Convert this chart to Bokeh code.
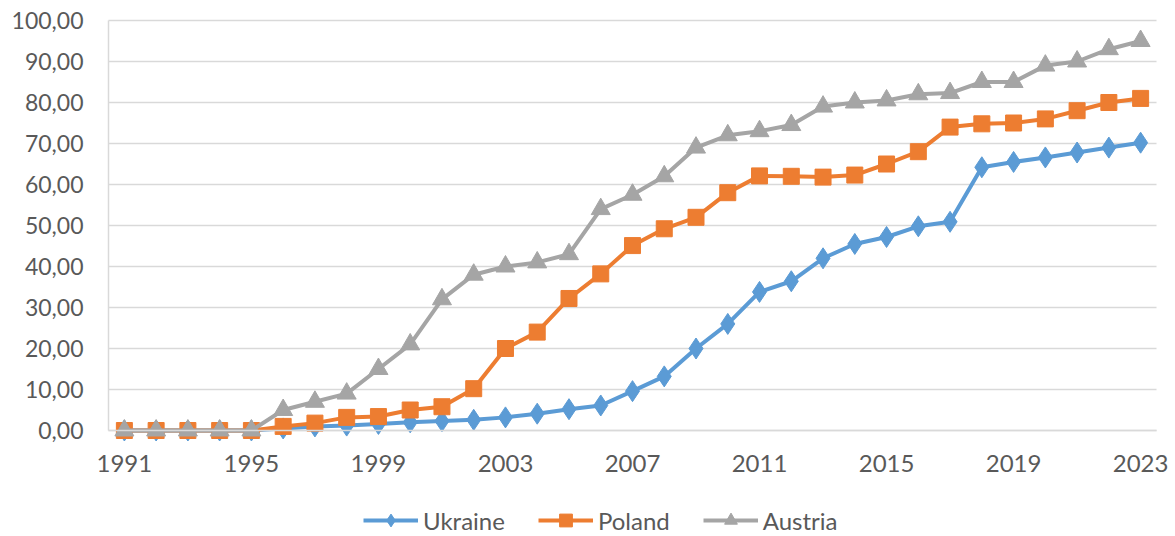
from bokeh.plotting import figure
from bokeh.models import Range1d, FixedTicker, Legend, LegendItem
from bokeh.embed import file_html
from bokeh.resources import INLINE

years = list(range(1991, 2024))
ukraine = [0, 0, 0, 0, 0,
           0.5, 1.0, 1.2, 1.6, 2.0, 2.3, 2.6, 3.2, 4.1, 5.2, 6.1, 9.6, 13.2, 20.0,
           26.0, 33.8, 36.4, 42.0, 45.5, 47.2, 49.8, 50.9, 64.2, 65.5, 66.6, 67.8,
           69.0, 70.2]
poland = [0, 0, 0, 0, 0,
          1.0, 1.8, 3.2, 3.4, 5.0, 5.8, 10.2, 20.0, 24.0, 32.2, 38.2, 45.1, 49.2,
          52.0, 58.0, 62.1, 62.0, 61.8, 62.3, 65.0, 68.0, 74.0, 74.8, 75.0, 76.0,
          78.0, 80.0, 81.0]
austria = [0, 0, 0, 0, 0,
           5.0, 7.0, 9.0, 15.0, 21.0, 32.0, 38.0, 40.0, 41.0, 43.0, 54.0, 57.5,
           62.0, 69.0, 72.0, 73.0, 74.5, 79.0, 80.0, 80.5, 82.0, 82.3, 85.0, 85.0,
           89.0, 90.0, 93.0, 95.0]
series_names = ["Ukraine", "Poland", "Austria"]
x_ticks = [1991, 1995, 1999, 2003, 2007, 2011, 2015, 2019, 2023]
y_ticks = [0, 10, 20, 30, 40, 50, 60, 70, 80, 90, 100]
y_tick_labels = ["0,00", "10,00", "20,00", "30,00", "40,00", "50,00",
                 "60,00", "70,00", "80,00", "90,00", "100,00"]

FONT = "Lato"
TXT = "#595959"

# Layout: the frame covers the whole figure; axes are pinned at the
# plot-area edges so that tick labels and the legend sit inside the frame.
W, H = 1170, 536
PLOT_L, PLOT_R, PLOT_T, PLOT_B = 108, 1156, 20, 430   # plot area in px
x_lo, x_hi = years[0] - 0.5, years[-1] + 0.5           # category bins
y_lo, y_hi = y_ticks[0], y_ticks[-1]
px_x = (PLOT_R - PLOT_L) / (x_hi - x_lo)
px_y = (PLOT_B - PLOT_T) / (y_hi - y_lo)

p = figure(frame_width=W, frame_height=H,
           x_range=Range1d(x_lo - PLOT_L / px_x, x_hi + (W - PLOT_R) / px_x),
           y_range=Range1d(y_lo - (H - PLOT_B) / px_y, y_hi + PLOT_T / px_y),
           output_backend="svg", toolbar_location=None,
           min_border_left=0, min_border_right=0, min_border_top=0,
           min_border_bottom=0)
p.outline_line_color = None
p.background_fill_color = "white"
p.border_fill_color = "white"
p.xgrid.visible = False
p.ygrid.visible = False

# horizontal gridlines limited to the plot area
n = len(y_ticks)
p.segment(x0=[x_lo] * n, y0=y_ticks, x1=[x_hi] * n, y1=y_ticks,
          line_color="#D9D9D9", line_width=1.5)

p.yaxis.ticker = FixedTicker(ticks=y_ticks)
p.yaxis.major_label_overrides = {t: l for t, l in zip(y_ticks, y_tick_labels)}
p.yaxis.bounds = (y_lo, y_hi)
p.yaxis.fixed_location = x_lo
p.xaxis.ticker = FixedTicker(ticks=x_ticks)
p.xaxis.bounds = (x_lo, x_hi)
p.xaxis.fixed_location = y_lo
for ax in (p.xaxis, p.yaxis):
    ax.axis_line_color = "#D9D9D9"
    ax.axis_line_width = 1.5
    ax.major_tick_line_color = None
    ax.minor_tick_line_color = None
    ax.major_tick_out = 0
    ax.major_tick_in = 0
    ax.major_label_text_font = FONT
    ax.major_label_text_color = TXT
p.yaxis.major_label_text_font_size = "23px"
p.xaxis.major_label_text_font_size = "24px"
p.yaxis.major_label_standoff = 25
p.xaxis.major_label_standoff = 24

colors = ["#5B9BD5", "#ED7D31", "#A5A5A5"]
markers = ["diamond", "square", "triangle"]
sizes = [21, 16, 19]
items = []
for name, vals, c, m, s in zip(series_names, [ukraine, poland, austria], colors, markers, sizes):
    ln = p.line(years, vals, line_color=c, line_width=4)
    sc = p.scatter(years, vals, marker=m, size=s, fill_color=c, line_color=c)
    items.append(LegendItem(label=name, renderers=[ln, sc]))

legend = Legend(items=items, orientation="horizontal", location=(363, 0),
                glyph_width=55, glyph_height=32, label_standoff=5, spacing=33,
                padding=0, margin=0, border_line_color=None,
                background_fill_alpha=0,
                label_text_font=FONT, label_text_font_size="24px",
                label_text_color=TXT)
p.add_layout(legend)

open("out.html", "w").write(file_html(p, INLINE))
